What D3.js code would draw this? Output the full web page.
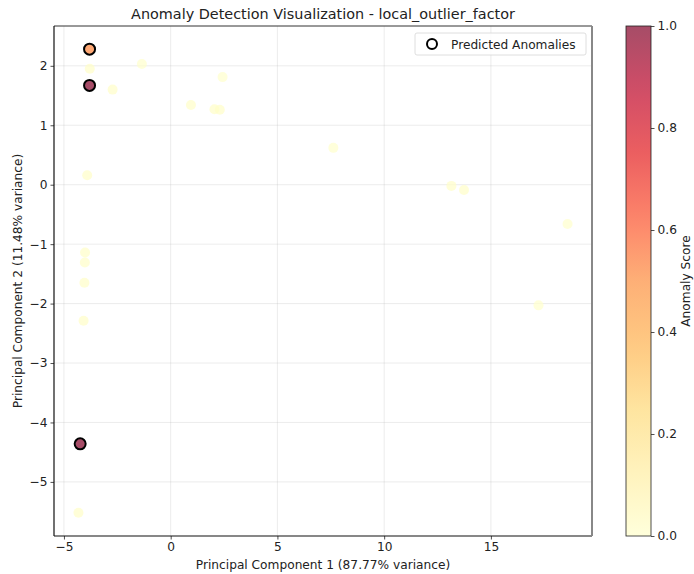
<!DOCTYPE html>
<html>
<head>
<meta charset="utf-8">
<script src="https://cdn.jsdelivr.net/npm/d3@7"></script>
<style>
  html, body { margin: 0; padding: 0; background: #fff; }
  svg { display: block; font-family: "DejaVu Sans", sans-serif; }
</style>
</head>
<body>
<svg id="chart" width="694" height="574"></svg>
<script>
// Projected samples on the first two principal components
const pc1 = [-3.80, -3.79, -3.80, -2.72, -1.35, 0.95, 2.05, 2.30, 2.43, 7.62, -3.91,
             13.15, 13.74, 18.59, 17.23, -4.01, -4.02, -4.04, -4.08, -4.24, -4.32];
const pc2 = [2.28, 1.95, 1.67, 1.60, 2.03, 1.34, 1.27, 1.26, 1.81, 0.62, 0.16,
             -0.02, -0.09, -0.66, -2.03, -1.14, -1.31, -1.65, -2.29, -4.36, -5.52];
// Normalised local outlier factor score per sample
const scores = [0.52, 0.01, 1.00, 0.01, 0.00, 0.01, 0.01, 0.01, 0.00, 0.00, 0.01,
                0.01, 0.01, 0.00, 0.00, 0.01, 0.01, 0.01, 0.01, 1.00, 0.01];
// 1 = flagged as anomaly by the detector
const predicted = [1, 0, 1, 0, 0, 0, 0, 0, 0, 0, 0,
                   0, 0, 0, 0, 0, 0, 0, 0, 1, 0];

const xTicks = [-5, 0, 5, 10, 15];
const yTicks = [-5, -4, -3, -2, -1, 0, 1, 2];
const cbTicks = [0.0, 0.2, 0.4, 0.6, 0.8, 1.0];

const titleText = "Anomaly Detection Visualization - local_outlier_factor";
const xLabel = "Principal Component 1 (87.77% variance)";
const yLabel = "Principal Component 2 (11.48% variance)";
const cbLabel = "Anomaly Score";
const legendLabel = "Predicted Anomalies";

const svg = d3.select("#chart");
const plot = { left: 54, right: 592, top: 26, bottom: 536 };
const cb = { left: 626, right: 651, top: 26, bottom: 536 };
const fs = 12.2;

// YlOrRd, piecewise linear through the nine class colours
const ylOrRd = d3.schemeYlOrRd[9];
const colour = d3.scaleLinear()
  .domain(d3.range(9).map(i => i / 8))
  .range(ylOrRd)
  .interpolate(d3.interpolateRgb);
const pointAlpha = 0.7;

function padded(ext) {
  const r = ext[1] - ext[0];
  return [ext[0] - 0.05 * r, ext[1] + 0.05 * r];
}

const x = d3.scaleLinear().domain(padded(d3.extent(pc1))).range([plot.left, plot.right]);
const y = d3.scaleLinear().domain(padded(d3.extent(pc2))).range([plot.bottom, plot.top]);

// Grid
const grid = svg.append("g");
grid.selectAll("line.vx").data(xTicks).join("line")
  .attr("x1", d => x(d)).attr("x2", d => x(d))
  .attr("y1", plot.top).attr("y2", plot.bottom)
  .attr("stroke", "#b0b0b0").attr("stroke-opacity", 0.3).attr("stroke-width", 0.8);
grid.selectAll("line.hy").data(yTicks).join("line")
  .attr("y1", d => y(d)).attr("y2", d => y(d))
  .attr("x1", plot.left).attr("x2", plot.right)
  .attr("stroke", "#b0b0b0").attr("stroke-opacity", 0.3).attr("stroke-width", 0.8);

// Axes
const fmt = d3.format("d");
const xAxis = svg.append("g")
  .attr("transform", `translate(0,${plot.bottom})`)
  .call(d3.axisBottom(x).tickValues(xTicks).tickFormat(fmt).tickSize(3.5).tickPadding(3));
const yAxis = svg.append("g")
  .attr("transform", `translate(${plot.left},0)`)
  .call(d3.axisLeft(y).tickValues(yTicks).tickFormat(fmt).tickSize(3.5).tickPadding(3));
[xAxis, yAxis].forEach(a => {
  a.select(".domain").remove();
  a.selectAll("text").attr("font-size", fs).attr("fill", "#222").attr("font-family", "DejaVu Sans");
  a.selectAll("line").attr("stroke", "#222").attr("stroke-width", 0.8);
});

// Points coloured by score
const pts = pc1.map((v, i) => ({ x: v, y: pc2[i], s: scores[i], a: predicted[i] }));
svg.append("g").selectAll("circle").data(pts).join("circle")
  .attr("cx", d => x(d.x)).attr("cy", d => y(d.y)).attr("r", 5)
  .attr("fill", d => colour(d.s)).attr("fill-opacity", pointAlpha);

// Rings around predicted anomalies
svg.append("g").selectAll("circle").data(pts.filter(d => d.a === 1)).join("circle")
  .attr("cx", d => x(d.x)).attr("cy", d => y(d.y)).attr("r", 5.5)
  .attr("fill", "none").attr("stroke", "#000").attr("stroke-width", 2);

// Frame
svg.append("line").attr("x1", plot.left).attr("x2", plot.right).attr("y1", plot.top).attr("y2", plot.top)
  .attr("stroke", "#333").attr("stroke-width", 1);
svg.append("line").attr("x1", plot.left).attr("x2", plot.right).attr("y1", plot.bottom).attr("y2", plot.bottom)
  .attr("stroke", "#111").attr("stroke-width", 1.2);
svg.append("line").attr("x1", plot.left).attr("x2", plot.left).attr("y1", plot.top).attr("y2", plot.bottom)
  .attr("stroke", "#111").attr("stroke-width", 1.2);
svg.append("line").attr("x1", plot.right).attr("x2", plot.right).attr("y1", plot.top).attr("y2", plot.bottom)
  .attr("stroke", "#888").attr("stroke-width", 2);

// Legend
const lg = svg.append("g");
lg.append("rect").attr("x", 415).attr("y", 33).attr("width", 171).attr("height", 22).attr("rx", 2)
  .attr("fill", "#fff").attr("fill-opacity", 0.8).attr("stroke", "#d6d6d6").attr("stroke-width", 0.8);
lg.append("circle").attr("cx", 432).attr("cy", 44).attr("r", 5)
  .attr("fill", "none").attr("stroke", "#000").attr("stroke-width", 2);
lg.append("text").attr("x", 451).attr("y", 48.5).attr("font-size", fs).attr("fill", "#222")
  .text(legendLabel);

// Title and axis labels
svg.append("text").attr("x", (plot.left + plot.right) / 2).attr("y", 19)
  .attr("text-anchor", "middle").attr("font-size", 14.4).attr("fill", "#222").text(titleText);
svg.append("text").attr("x", (plot.left + plot.right) / 2).attr("y", 569)
  .attr("text-anchor", "middle").attr("font-size", fs).attr("fill", "#222").text(xLabel);
svg.append("text")
  .attr("transform", `translate(22,${(plot.top + plot.bottom) / 2}) rotate(-90)`)
  .attr("text-anchor", "middle").attr("font-size", fs).attr("fill", "#222").text(yLabel);

// Colour bar
const defs = svg.append("defs");
const grad = defs.append("linearGradient").attr("id", "cbgrad")
  .attr("x1", 0).attr("y1", 1).attr("x2", 0).attr("y2", 0);
d3.range(0, 1.0001, 0.05).forEach(t => {
  grad.append("stop").attr("offset", t).attr("stop-color", colour(t)).attr("stop-opacity", pointAlpha);
});
const cbScale = d3.scaleLinear().domain([0, 1]).range([cb.bottom, cb.top]);
svg.append("rect").attr("x", cb.left).attr("y", cb.top)
  .attr("width", cb.right - cb.left).attr("height", cb.bottom - cb.top)
  .attr("fill", "url(#cbgrad)").attr("stroke", "#222").attr("stroke-width", 0.8);
const cbAxis = svg.append("g")
  .attr("transform", `translate(${cb.right},0)`)
  .call(d3.axisRight(cbScale).tickValues(cbTicks).tickFormat(d3.format(".1f")).tickSize(3.5).tickPadding(3));
cbAxis.select(".domain").remove();
cbAxis.selectAll("text").attr("font-size", fs).attr("fill", "#222").attr("font-family", "DejaVu Sans");
cbAxis.selectAll("line").attr("stroke", "#222").attr("stroke-width", 0.8);
svg.append("text")
  .attr("transform", `translate(690,${(cb.top + cb.bottom) / 2}) rotate(-90)`)
  .attr("text-anchor", "middle").attr("font-size", fs).attr("fill", "#222").text(cbLabel);
</script>
</body>
</html>
